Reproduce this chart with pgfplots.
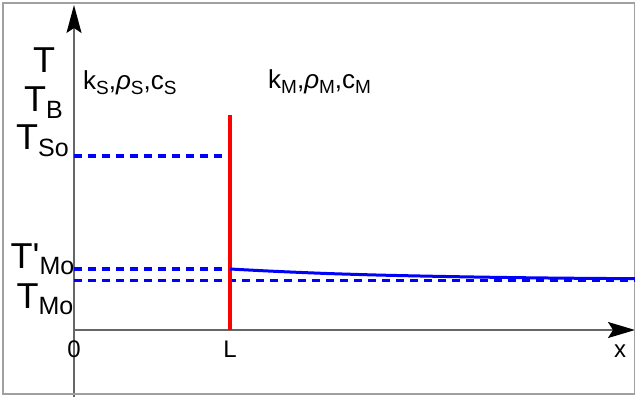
\documentclass[border=0pt]{standalone}
\usepackage{pgfplots}
\pgfplotsset{compat=1.18}
\usepackage{fontspec}
\setmainfont{Liberation Sans}
\usetikzlibrary{arrows.meta}
\definecolor{axgray}{HTML}{666666}
\definecolor{bordergray}{HTML}{A0A0A0}
\newcommand{\BigT}[2]{{\fontsize{36}{36}\selectfont T#1\raisebox{-6.5pt}{\fontsize{25}{25}\selectfont #2}}}
\newcommand{\sm}[1]{\raisebox{-5pt}{\fontsize{19}{19}\selectfont #1}}
\newcommand{\tl}[1]{\fontsize{24}{24}\selectfont #1}
\begin{document}
\begin{tikzpicture}
\begin{axis}[
  x=1pt, y=1pt,
  xmin=0, xmax=561, ymin=-67, ymax=325,
  axis lines=middle,
  axis line style={draw=axgray, line width=1.8pt},
  x axis line style={-{Stealth[length=27pt,width=16pt,inset=5pt,color=black]}},
  y axis line style={-{Stealth[length=28pt,width=15pt,inset=5pt,color=black]}},
  clip=false,
  hide obscured x ticks=false,
  xtick={0,156}, xticklabels={{\tl{0}},{\tl{L}}},
  ytick=\empty,
  major tick length=0pt,
  xticklabel style={anchor=base, yshift=-27pt, inner sep=0pt},
]
\draw[bordergray, line width=1.8pt] (axis cs:-71,-64) rectangle (axis cs:560.5,327);
% dashed reference levels
\addplot[blue, line width=3.2pt, dash pattern=on 8pt off 6pt] coordinates {(0,174) (156,174)};
\addplot[blue, line width=3.2pt, dash pattern=on 8pt off 6pt] coordinates {(0,61) (156,61)};
\addplot[blue, line width=3.2pt, dash pattern=on 8pt off 6pt] coordinates {(0,49.5) (561,49.5)};
% interface
\addplot[red, line width=3.2pt] coordinates {(156,0) (156,215)};
% temperature profile in M
\addplot[blue, line width=3pt, smooth] coordinates {
 (156,61) (186,59.4) (216,58.0) (256,56.4) (306,54.9) (356,53.8)
 (406,52.9) (456,52.2) (506,51.7) (561,51.3)};
% labels
\node[anchor=base, inner sep=0pt] at (axis cs:-30,257) {\BigT{}{}};
\node[anchor=base, inner sep=0pt] at (axis cs:-30.5,218) {\BigT{}{B}};
\node[anchor=base, inner sep=0pt] at (axis cs:-31.5,180) {\BigT{}{So}};
\node[anchor=base, inner sep=0pt] at (axis cs:-31.5,62) {\BigT{\textquotesingle}{Mo}};
\node[anchor=base, inner sep=0pt] at (axis cs:-29,22) {\BigT{}{Mo}};
\node[anchor=base west, inner sep=0pt, font=\fontsize{26}{26}\selectfont] at (axis cs:9,240) {k\sm{S},\textit{ρ}\sm{S},c\sm{S}};
\node[anchor=base west, inner sep=0pt, font=\fontsize{26}{26}\selectfont] at (axis cs:194,241) {k\sm{M},\textit{ρ}\sm{M},c\sm{M}};
\node[anchor=base, inner sep=0pt, font=\fontsize{24}{24}\selectfont] at (axis cs:546,-27) {x};
\coordinate (bl) at (axis cs:-74,-67);
\coordinate (tr) at (axis cs:561,330);
\end{axis}
\pgfresetboundingbox
\path (bl) rectangle (tr);
\end{tikzpicture}
\end{document}
